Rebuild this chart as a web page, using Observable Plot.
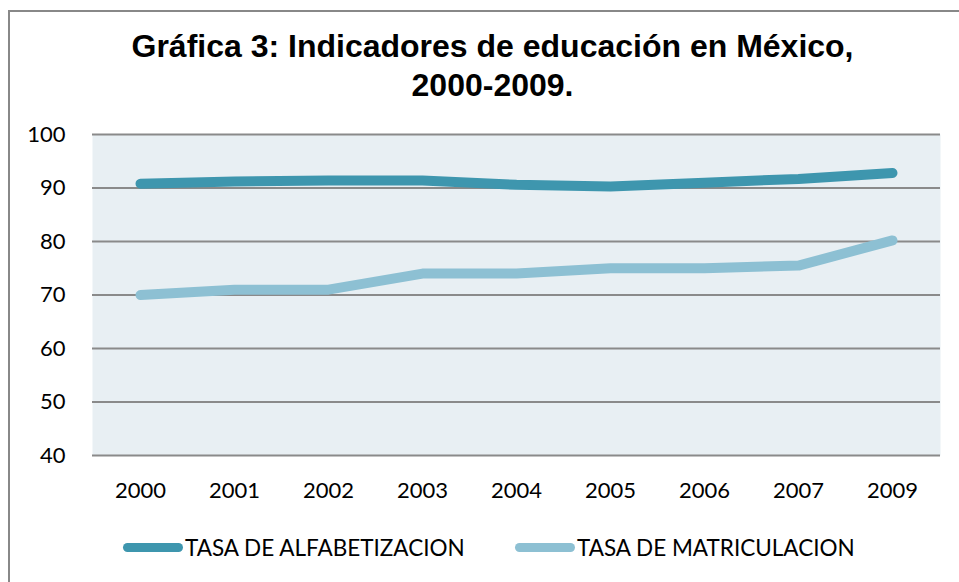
<!DOCTYPE html>
<html>
<head>
<meta charset="utf-8">
<script src="https://cdn.jsdelivr.net/npm/d3@7"></script>
<script src="https://cdn.jsdelivr.net/npm/@observablehq/plot@0.6"></script>
<style>
  html, body { margin: 0; padding: 0; background: #fff; }
  body { width: 959px; height: 582px; position: relative; overflow: hidden; }
  #frame { position: absolute; left: 8px; top: 10px; width: 960px; height: 600px;
           border-top: 2px solid #888; border-left: 2px solid #888; box-sizing: border-box; }
  #title { position: relative; height: 122px; box-sizing: border-box; padding-top: 27px; padding-left: 26px;
           text-align: center; font-family: "Liberation Sans", Arial, sans-serif; font-weight: bold;
           font-size: 32px; line-height: 39px; color: #000; }
  #chart { position: relative; height: 390px; }
  #legend { position: relative; height: 70px; font-family: Lato, "Open Sans", sans-serif; font-size: 22.5px; color: #000; }
  .item { position: absolute; top: 22px; display: flex; align-items: center; white-space: nowrap; }
  .sw { width: 60px; height: 9px; border-radius: 5px; margin-right: 2px; }
</style>
</head>
<body>
<div id="frame"></div>
<div id="title">Gráfica 3: Indicadores de educación en México,<br>2000-2009.</div>
<div id="chart"></div>
<div id="legend"></div>
<script>
const years = ["2000","2001","2002","2003","2004","2005","2006","2007","2009"];
const alfabetizacion = [90.8, 91.2, 91.4, 91.4, 90.6, 90.3, 91.0, 91.7, 92.8];
const matriculacion = [70.0, 71.0, 71.0, 74.0, 74.0, 75.0, 75.0, 75.5, 80.2];
const seriesNames = ["TASA DE ALFABETIZACION", "TASA DE MATRICULACION"];
const seriesColors = ["#3E96AE", "#8DC0D3"];
const yTicks = [40, 50, 60, 70, 80, 90, 100];

const rows = [];
years.forEach((y, i) => {
  rows.push({year: y, value: alfabetizacion[i], serie: seriesNames[0]});
  rows.push({year: y, value: matriculacion[i], serie: seriesNames[1]});
});

const chart = Plot.plot({
  width: 959,
  height: 390,
  marginTop: 12,
  marginBottom: 57,
  marginLeft: 92,
  marginRight: 19,
  style: {fontFamily: "Lato, 'Open Sans', sans-serif", fontSize: "22px", color: "#000", background: "transparent", overflow: "visible"},
  x: {type: "point", domain: years, padding: 0.5, label: null},
  y: {domain: [40, 100], label: null},
  color: {domain: seriesNames, range: seriesColors},
  marks: [
    Plot.frame({fill: "#E8EFF3", stroke: null}),
    Plot.ruleY(yTicks, {stroke: "#8a8a8a", strokeWidth: 2}),
    Plot.axisX({tickSize: 0, tickPadding: 27, fontSize: 22, label: null}),
    Plot.axisY({ticks: yTicks, tickSize: 0, tickPadding: 27, fontSize: 22, label: null}),
    Plot.line(rows, {x: "year", y: "value", z: "serie", stroke: "serie", strokeWidth: 10,
                     strokeLinecap: "round", strokeLinejoin: "round"})
  ]
});
document.getElementById("chart").appendChild(chart);

const legend = document.getElementById("legend");
const lefts = [123, 515];
seriesNames.forEach((name, i) => {
  const it = document.createElement("div");
  it.className = "item";
  it.style.left = lefts[i] + "px";
  const sw = document.createElement("span");
  sw.className = "sw";
  sw.style.background = seriesColors[i];
  const tx = document.createElement("span");
  tx.textContent = name;
  it.appendChild(sw); it.appendChild(tx);
  legend.appendChild(it);
});
</script>
</body>
</html>
